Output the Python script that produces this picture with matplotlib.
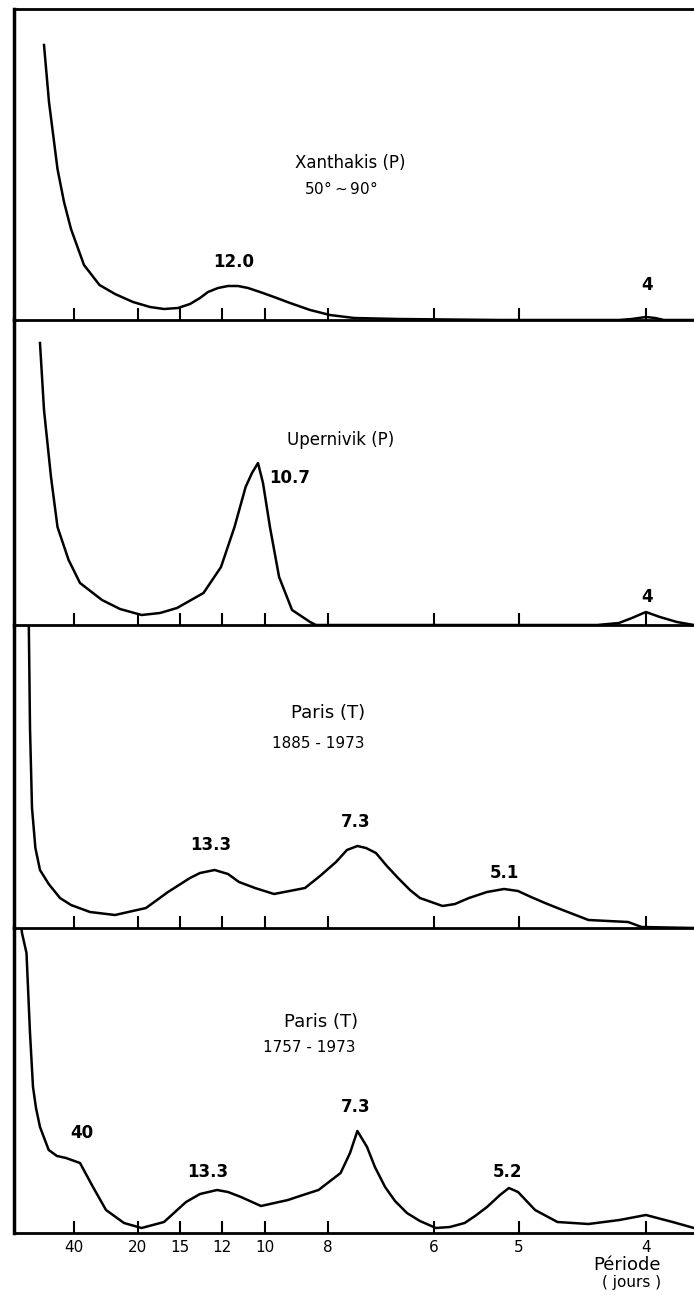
import matplotlib.pyplot as plt
import numpy as np

# periods marked on the frequency axis (days)
periods = [40, 20, 15, 12, 10, 8, 6, 5, 4]
period_labels = ["40", "20", "15", "12", "10", "8", "6", "5", "4"]

# Xanthakis (P) 50-90 : frequency (1/day), relative power
xan_freq = [0.01322, 0.01518, 0.01853, 0.02109, 0.02384, 0.02895, 0.03505, 0.04115,
            0.04823, 0.05492, 0.06043, 0.06593, 0.07065, 0.07459, 0.07773, 0.08167,
            0.0856, 0.08954, 0.09347, 0.0982, 0.1037, 0.11, 0.1179, 0.1257, 0.1352,
            0.1525, 0.1926, 0.2394, 0.2445, 0.25, 0.2536, 0.2571, 0.2689]
xan_pow = [275, 218, 151, 118, 91, 55, 35, 26, 18, 13, 11, 12, 16, 22, 28, 32,
           34, 34, 32, 28, 23, 17, 10, 5, 2, 1, 0, 0, 1, 3, 2, 0, 0]

# Upernivik (P)
upe_freq = [0.01164, 0.01322, 0.01597, 0.01853, 0.0229, 0.02738, 0.03603, 0.04312,
            0.05161, 0.05885, 0.06554, 0.07596, 0.08285, 0.08816, 0.09253, 0.09504,
            0.0974, 0.09937, 0.1021, 0.1057, 0.1108, 0.1179, 0.1202, 0.2308, 0.2394,
            0.2445, 0.25, 0.2555, 0.2622, 0.2689]
upe_pow = [282, 215, 148, 98, 65, 42, 25, 16, 10, 12, 17, 32, 58, 98, 138, 152,
           162, 142, 98, 48, 15, 3, 0, 0, 2, 7, 13, 8, 3, 0]

# Paris (T) 1885-1973
p1885_freq = [0.00712, 0.00771, 0.0085, 0.00983, 0.01164, 0.01507, 0.01951, 0.02384,
              0.03131, 0.04115, 0.05334, 0.062, 0.07065, 0.07459, 0.08033, 0.0856,
              0.08993, 0.09622, 0.1037, 0.1159, 0.1218, 0.1281, 0.1324, 0.1365,
              0.1399, 0.1438, 0.1481, 0.1525, 0.1572, 0.1611, 0.17, 0.1749, 0.1804,
              0.1875, 0.1942, 0.1997, 0.2048, 0.2103, 0.2152, 0.2274, 0.243, 0.2483,
              0.2689]
p1885_pow = [330, 200, 120, 80, 58, 44, 30, 23, 16, 13, 20, 36, 50, 55, 58, 54,
             46, 40, 34, 40, 52, 66, 78, 82, 80, 75, 62, 50, 38, 30, 22, 24, 30,
             36, 39, 37, 31, 25, 20, 8, 6, 1, 0]

# Paris (T) 1757-1973
p1757_freq = [0.00338, 0.00456, 0.00633, 0.00771, 0.00889, 0.01007, 0.01164, 0.01507,
              0.01833, 0.02187, 0.02738, 0.03249, 0.03761, 0.04469, 0.05161, 0.06043,
              0.06908, 0.07459, 0.08128, 0.0856, 0.0907, 0.09858, 0.1092, 0.1139,
              0.1212, 0.1299, 0.1336, 0.1365, 0.1403, 0.1434, 0.1474, 0.1513, 0.156,
              0.1611, 0.1674, 0.1729, 0.1787, 0.1828, 0.1875, 0.1926, 0.1961, 0.1997,
              0.2064, 0.2152, 0.2274, 0.2396, 0.25, 0.2605, 0.2689]
p1757_pow = [330, 300, 280, 200, 146, 125, 106, 83, 77, 75, 70, 46, 23, 10, 5, 11,
             31, 39, 43, 41, 36, 27, 33, 37, 43, 60, 80, 102, 86, 66, 46, 32, 20,
             12, 5, 6, 10, 17, 26, 38, 45, 41, 23, 11, 9, 13, 18, 11, 5]

W, H = 694, 1295
fig = plt.figure(figsize=(W / 100, H / 100), dpi=100)
plt.rcParams['font.family'] = ['DejaVu Sans']


def fx(x, y):
    return x / W, 1 - y / H


# panel extents in pixels (top, bottom)
extents = [(9, 320), (320, 625), (625, 928), (928, 1233)]
series = [(xan_freq, xan_pow), (upe_freq, upe_pow),
          (p1885_freq, p1885_pow), (p1757_freq, p1757_pow)]
left_px = 14
f_left = (left_px - 10.4) / 2542
f_right = (W - 10.4) / 2542

axes = []
for i, ((top, bot), (fr, pw)) in enumerate(zip(extents, series)):
    ax = fig.add_axes([left_px / W, 1 - bot / H, 1 - left_px / W, (bot - top) / H])
    ax.plot(fr, pw, color='black', lw=1.8, solid_joinstyle='round')
    ax.set_xlim(f_left, f_right)
    ax.set_ylim(0, bot - top)
    ax.set_yticks([])
    ax.patch.set_alpha(0)
    ax.spines['right'].set_visible(False)
    ax.spines['top'].set_visible(i == 0)
    ax.spines['top'].set_linewidth(2)
    ax.spines['bottom'].set_linewidth(2)
    ax.spines['left'].set_linewidth(2.5)
    ax.set_xticks([1 / p for p in periods])
    ax.tick_params(axis='x', direction='in', length=9, width=1.5, pad=5)
    if i == 3:
        ax.set_xticklabels(period_labels, fontsize=11)
    else:
        ax.set_xticklabels([])
    axes.append(ax)

# titles of the panels
fig.text(*fx(350, 163), "Xanthakis (P)", ha='center', va='center', fontsize=12)
fig.text(*fx(341, 189), "50°$\\sim$90°", ha='center', va='center', fontsize=11)
fig.text(*fx(341, 440), "Upernivik (P)", ha='center', va='center', fontsize=12)
fig.text(*fx(328, 713), "Paris (T)", ha='center', va='center', fontsize=13)
fig.text(*fx(318, 743), "1885 - 1973", ha='center', va='center', fontsize=11)
fig.text(*fx(321, 1022), "Paris (T)", ha='center', va='center', fontsize=13)
fig.text(*fx(309, 1048), "1757 - 1973", ha='center', va='center', fontsize=11)

# peak labels
peak_kw = dict(ha='center', va='center', fontsize=12, fontweight='bold')
fig.text(*fx(234, 262), "12.0", **peak_kw)
fig.text(*fx(647, 285), "4", **peak_kw)
fig.text(*fx(290, 478), "10.7", **peak_kw)
fig.text(*fx(647, 597), "4", **peak_kw)
fig.text(*fx(211, 845), "13.3", **peak_kw)
fig.text(*fx(356, 822), "7.3", **peak_kw)
fig.text(*fx(504, 873), "5.1", **peak_kw)
fig.text(*fx(82, 1133), "40", **peak_kw)
fig.text(*fx(208, 1172), "13.3", **peak_kw)
fig.text(*fx(356, 1107), "7.3", **peak_kw)
fig.text(*fx(507, 1172), "5.2", **peak_kw)

fig.text(*fx(627, 1265), "Période", ha='center', va='center', fontsize=13)
fig.text(*fx(632, 1283), "( jours )", ha='center', va='center', fontsize=11)

fig.savefig("out.png", dpi=100)
